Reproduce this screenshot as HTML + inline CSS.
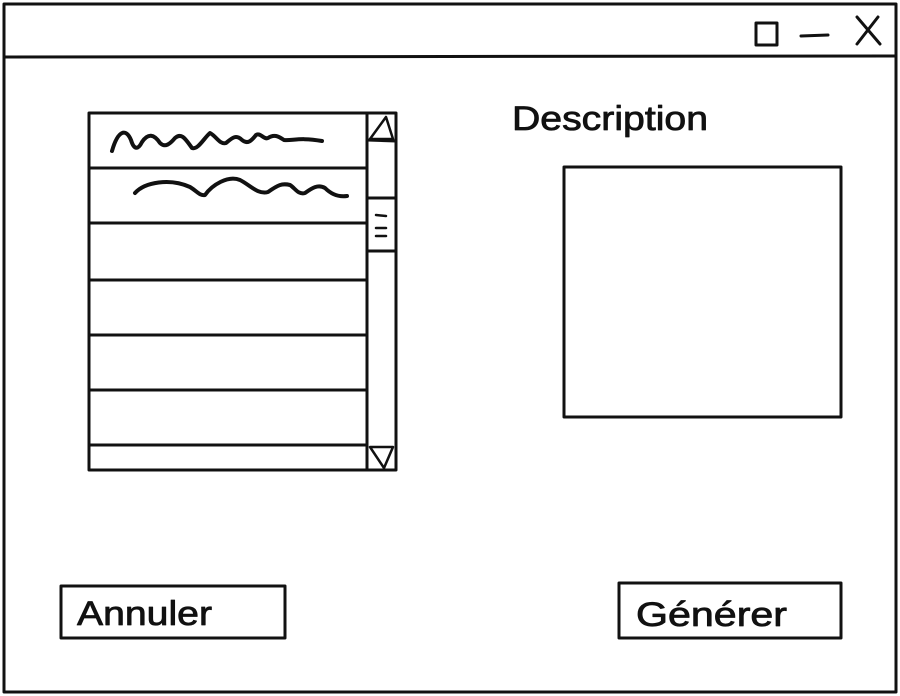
<!DOCTYPE html>
<html><head><meta charset="utf-8"><style>
html,body{margin:0;padding:0;background:#fff;}
svg{display:block}
text{font-family:"Liberation Sans",sans-serif;}
</style></head><body>
<svg width="900" height="696" viewBox="0 0 900 696" fill="none" stroke="#111" stroke-width="3" stroke-linecap="round" stroke-linejoin="round">
<rect x="4" y="4" width="892" height="688"/>
<line x1="4" y1="57" x2="896" y2="56"/>
<rect x="756" y="23" width="21" height="22"/>
<line x1="801" y1="36" x2="828" y2="35"/>
<g><line x1="857" y1="17" x2="880" y2="44"/><line x1="878" y1="17" x2="857" y2="44"/></g>

<g>
<rect x="89" y="113" width="307" height="357"/>
<line x1="89" y1="168" x2="367" y2="168"/>
<line x1="89" y1="223" x2="367" y2="223"/>
<line x1="89" y1="280" x2="367" y2="280"/>
<line x1="89" y1="335" x2="367" y2="335"/>
<line x1="89" y1="390" x2="367" y2="390"/>
<line x1="89" y1="445" x2="367" y2="445"/>
<path stroke-width="4" d="M112 151 C118 130 126 128 131 140 C134 150 138 150 142 142 C148 133 154 134 160 143 C165 148 170 144 175 138 C182 132 186 140 192 148 C198 150 204 138 210 133 C216 136 220 145 226 143 C232 138 236 134 242 140 C248 145 252 140 256 135 C260 132 264 140 268 138 C274 134 278 136 284 140 C292 141 300 137 322 141"/>
<path stroke-width="4" d="M135 193 C145 182 170 178 190 187 C198 192 200 196 205 195 C212 185 228 175 240 180 C250 185 258 195 268 192 C278 185 282 183 290 185 C295 188 298 195 305 193 C312 188 318 184 325 188 C332 195 340 197 347 196"/>
</g>
<g>
<line x1="367" y1="113" x2="367" y2="470"/>
<polygon points="370,139 386,117 393,139" stroke-width="2.5"/>
<line x1="367" y1="140" x2="396" y2="141"/>
<rect x="367" y="198" width="29" height="53"/>
<line x1="376" y1="215" x2="386" y2="216" stroke-width="2.5"/>
<line x1="376" y1="228" x2="386" y2="228" stroke-width="2.5"/>
<line x1="376" y1="236" x2="386" y2="236" stroke-width="2.5"/>
<polygon points="370,447 393,447 384,468" stroke-width="2.5"/>
</g>

<text x="512" y="130" font-size="34" fill="#111" stroke="#111" stroke-width="0.8" textLength="196" lengthAdjust="spacingAndGlyphs">Description</text>
<rect x="564" y="167" width="277" height="250"/>

<g>
<rect x="61" y="586" width="224" height="52"/>
<text x="77" y="625" font-size="34" fill="#111" stroke="#111" stroke-width="0.8" textLength="135" lengthAdjust="spacingAndGlyphs">Annuler</text>
</g>
<g>
<rect x="619" y="583" width="222" height="55"/>
<text x="636" y="626" font-size="34" fill="#111" stroke="#111" stroke-width="0.8" textLength="151" lengthAdjust="spacingAndGlyphs">Générer</text>
</g>
</svg>
</body></html>
